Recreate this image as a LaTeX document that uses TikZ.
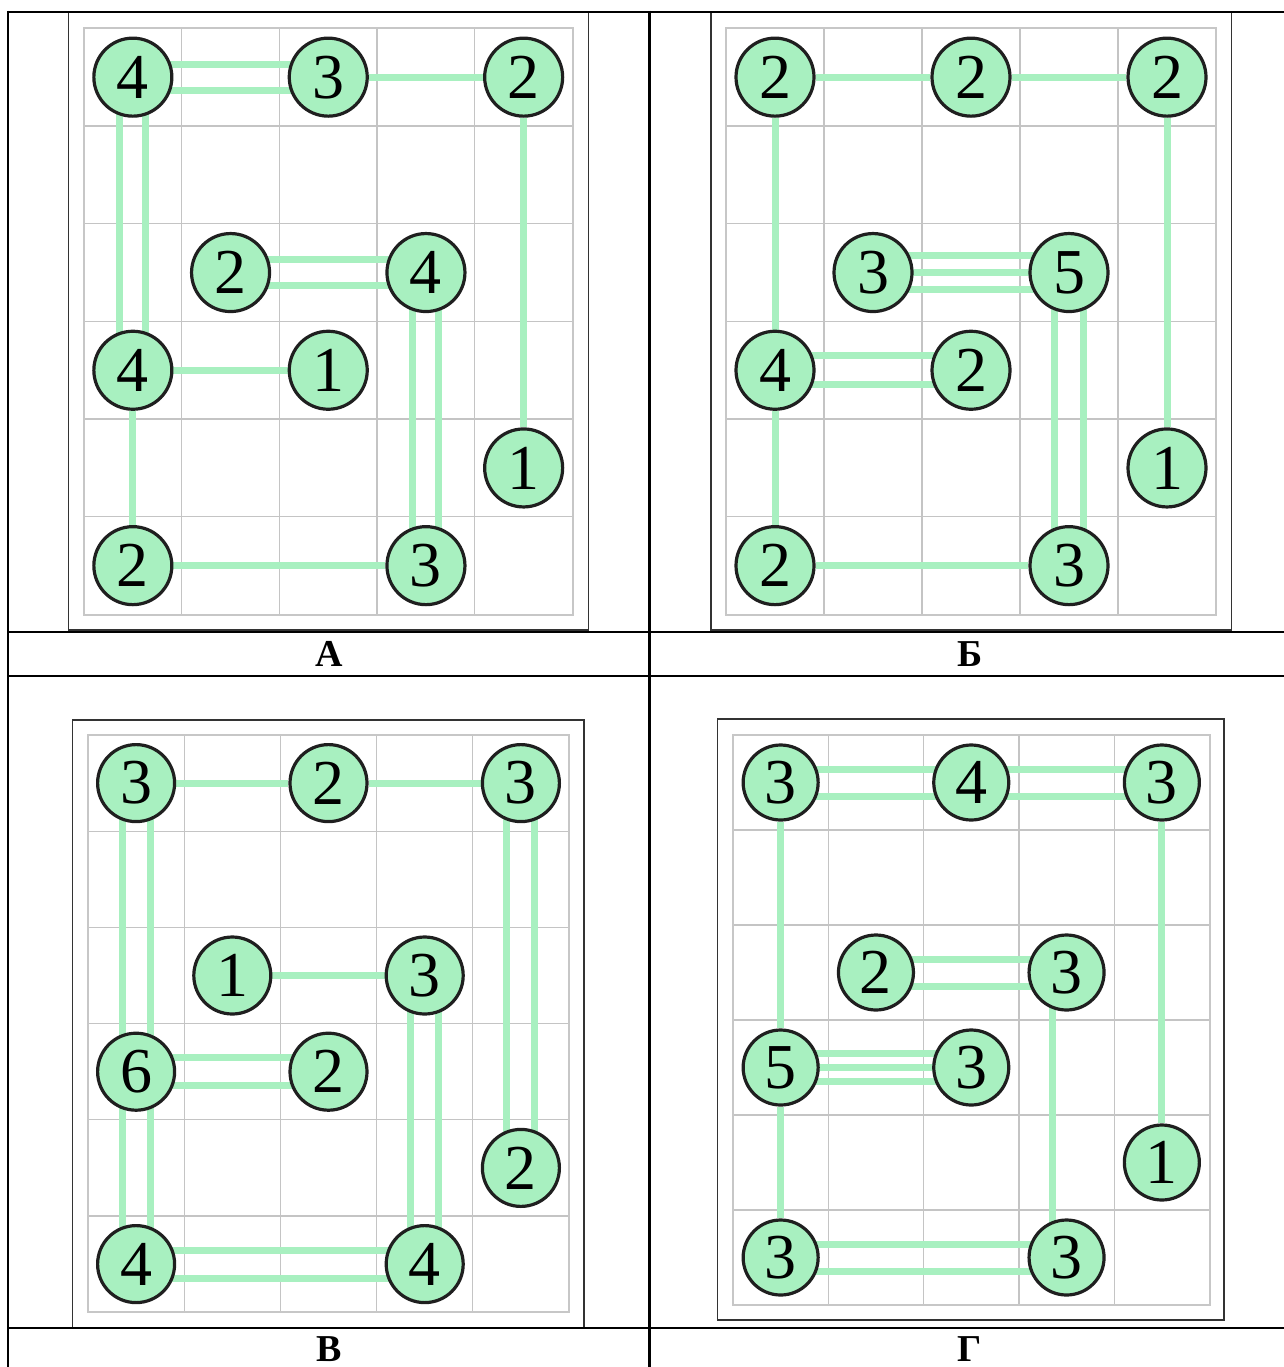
\documentclass[tikz,border=0pt]{standalone}
\usepackage{fontspec}
\setmainfont{Liberation Serif}
\usetikzlibrary{positioning}
\definecolor{isl}{HTML}{A8F0C0}
\definecolor{frm}{HTML}{333333}
\definecolor{grd}{HTML}{C4C4C4}
\pgfdeclarelayer{back}
\pgfdeclarelayer{bridge}
\pgfsetlayers{back,bridge,main}
\tikzset{
  island/.style={draw=black!88, circle, fill=isl, line width=3.2pt,
                 minimum size=78pt, inner sep=0pt,
                 font=\fontsize{64}{64}\selectfont},
  br/.style    ={draw=isl, line width=7pt},
  gridln/.style={draw=grd, line width=1.3pt},
  gridbd/.style={draw=black!22, line width=2pt},
  pbox/.style  ={draw=frm, line width=1.4pt},
  tbl/.style   ={draw=black, line width=2.8pt},
  lbl/.style   ={inner sep=0pt, font=\fontsize{38}{38}\selectfont\bfseries},
}

\begin{document}
\begin{tikzpicture}[x=1pt, y=-1pt]
  \useasboundingbox (0,0) rectangle (1284,1367);
  \clip (0,0) rectangle (1284,1367);

  % table
  \draw[tbl] (8,12) -- (1292,12);
  \draw[tbl] (8,632) -- (1292,632);
  \draw[tbl] (8,676) -- (1292,676);
  \draw[tbl] (8,1328) -- (1292,1328);
  \draw[tbl] (8,10.6) -- (8,1372);
  \draw[tbl] (649.5,10.6) -- (649.5,1372);
  \node[lbl] (la) at (328.75,654) {А};
  \node[lbl] (lb) at (970,654) {Б};
  \node[lbl] (lc) at (328.75,1349) {В};
  \node[lbl] (ld) at (970,1349) {Г};

  \begin{pgfonlayer}{back}
    \draw[pbox] (68.7,12) rectangle (588.3,630);
    \draw[pbox] (711,12.5) rectangle (1231.5,630);
    \draw[pbox] (72.5,720) rectangle (584,1327.5);
    \draw[pbox] (717.5,719) rectangle (1224,1320);
  \end{pgfonlayer}

  % puzzle A
  \begin{scope}[shift={(84,28.3)}, x=97.7pt, y=-97.7pt]
    \begin{pgfonlayer}{back}
      \foreach \i in {1,...,4} \draw[gridln] (\i,0) -- (\i,6);
      \foreach \j in {1,...,5} \draw[gridln] (0,\j) -- (5,\j);
      \draw[gridbd] (0,0) rectangle (5,6);
    \end{pgfonlayer}
    \node[island] (a11) at (0.5,0.5) {4};
    \node[island] (a31) at (2.5,0.5) {3};
    \node[island] (a51) at (4.5,0.5) {2};
    \node[island] (a23) at (1.5,2.5) {2};
    \node[island] (a43) at (3.5,2.5) {4};
    \node[island] (a14) at (0.5,3.5) {4};
    \node[island] (a34) at (2.5,3.5) {1};
    \node[island] (a55) at (4.5,4.5) {1};
    \node[island] (a16) at (0.5,5.5) {2};
    \node[island] (a46) at (3.5,5.5) {3};
    \begin{pgfonlayer}{bridge}
      \foreach \o in {-13,13} {
        \draw[br] ([yshift=\o pt]a11.center) -- ([yshift=\o pt]a31.center);
        \draw[br] ([yshift=\o pt]a23.center) -- ([yshift=\o pt]a43.center);
        \draw[br] ([xshift=\o pt]a11.center) -- ([xshift=\o pt]a14.center);
        \draw[br] ([xshift=\o pt]a43.center) -- ([xshift=\o pt]a46.center);
      }
      \draw[br] (a31) -- (a51);
      \draw[br] (a51) -- (a55);
      \draw[br] (a14) -- (a34);
      \draw[br] (a14) -- (a16);
      \draw[br] (a16) -- (a46);
    \end{pgfonlayer}
  \end{scope}

  % puzzle B
  \begin{scope}[shift={(726,28.3)}, x=98pt, y=-97.7pt]
    \begin{pgfonlayer}{back}
      \foreach \i in {1,...,4} \draw[gridln] (\i,0) -- (\i,6);
      \foreach \j in {1,...,5} \draw[gridln] (0,\j) -- (5,\j);
      \draw[gridbd] (0,0) rectangle (5,6);
    \end{pgfonlayer}
    \node[island] (b11) at (0.5,0.5) {2};
    \node[island] (b31) at (2.5,0.5) {2};
    \node[island] (b51) at (4.5,0.5) {2};
    \node[island] (b23) at (1.5,2.5) {3};
    \node[island] (b43) at (3.5,2.5) {5};
    \node[island] (b14) at (0.5,3.5) {4};
    \node[island] (b34) at (2.5,3.5) {2};
    \node[island] (b55) at (4.5,4.5) {1};
    \node[island] (b16) at (0.5,5.5) {2};
    \node[island] (b46) at (3.5,5.5) {3};
    \begin{pgfonlayer}{bridge}
      \foreach \o in {-17,0,17}
        \draw[br] ([yshift=\o pt]b23.center) -- ([yshift=\o pt]b43.center);
      \foreach \o in {-14.5,14.5} {
        \draw[br] ([xshift=\o pt]b43.center) -- ([xshift=\o pt]b46.center);
        \draw[br] ([yshift=\o pt]b14.center) -- ([yshift=\o pt]b34.center);
      }
      \draw[br] (b11) -- (b31);
      \draw[br] (b31) -- (b51);
      \draw[br] (b11) -- (b14);
      \draw[br] (b51) -- (b55);
      \draw[br] (b14) -- (b16);
      \draw[br] (b16) -- (b46);
    \end{pgfonlayer}
  \end{scope}

  % puzzle V
  \begin{scope}[shift={(88,735)}, x=96.2pt, y=-96.2pt,
                island/.append style={minimum size=77pt}]
    \begin{pgfonlayer}{back}
      \foreach \i in {1,...,4} \draw[gridln] (\i,0) -- (\i,6);
      \foreach \j in {1,...,5} \draw[gridln] (0,\j) -- (5,\j);
      \draw[gridbd] (0,0) rectangle (5,6);
    \end{pgfonlayer}
    \node[island] (c11) at (0.5,0.5) {3};
    \node[island] (c31) at (2.5,0.5) {2};
    \node[island] (c51) at (4.5,0.5) {3};
    \node[island] (c23) at (1.5,2.5) {1};
    \node[island] (c43) at (3.5,2.5) {3};
    \node[island] (c14) at (0.5,3.5) {6};
    \node[island] (c34) at (2.5,3.5) {2};
    \node[island] (c55) at (4.5,4.5) {2};
    \node[island] (c16) at (0.5,5.5) {4};
    \node[island] (c46) at (3.5,5.5) {4};
    \begin{pgfonlayer}{bridge}
      \foreach \o in {-14,14} {
        \draw[br] ([xshift=\o pt]c11.center) -- ([xshift=\o pt]c14.center);
        \draw[br] ([xshift=\o pt]c51.center) -- ([xshift=\o pt]c55.center);
        \draw[br] ([xshift=\o pt]c43.center) -- ([xshift=\o pt]c46.center);
        \draw[br] ([xshift=\o pt]c14.center) -- ([xshift=\o pt]c16.center);
        \draw[br] ([yshift=\o pt]c14.center) -- ([yshift=\o pt]c34.center);
        \draw[br] ([yshift=\o pt]c16.center) -- ([yshift=\o pt]c46.center);
      }
      \draw[br] (c11) -- (c31);
      \draw[br] (c31) -- (c51);
      \draw[br] (c23) -- (c43);
    \end{pgfonlayer}
  \end{scope}

  % puzzle G
  \begin{scope}[shift={(733,735)}, x=95.3pt, y=-95pt,
                island/.append style={minimum size=75pt}]
    \begin{pgfonlayer}{back}
      \foreach \i in {1,...,4} \draw[gridln] (\i,0) -- (\i,6);
      \foreach \j in {1,...,5} \draw[gridln] (0,\j) -- (5,\j);
      \draw[gridbd] (0,0) rectangle (5,6);
    \end{pgfonlayer}
    \node[island] (d11) at (0.5,0.5) {3};
    \node[island] (d31) at (2.5,0.5) {4};
    \node[island] (d51) at (4.5,0.5) {3};
    \node[island] (d23) at (1.5,2.5) {2};
    \node[island] (d43) at (3.5,2.5) {3};
    \node[island] (d14) at (0.5,3.5) {5};
    \node[island] (d34) at (2.5,3.5) {3};
    \node[island] (d55) at (4.5,4.5) {1};
    \node[island] (d16) at (0.5,5.5) {3};
    \node[island] (d46) at (3.5,5.5) {3};
    \begin{pgfonlayer}{bridge}
      \foreach \o in {-13.5,13.5} {
        \draw[br] ([yshift=\o pt]d11.center) -- ([yshift=\o pt]d31.center);
        \draw[br] ([yshift=\o pt]d31.center) -- ([yshift=\o pt]d51.center);
        \draw[br] ([yshift=\o pt]d23.center) -- ([yshift=\o pt]d43.center);
        \draw[br] ([yshift=\o pt]d16.center) -- ([yshift=\o pt]d46.center);
      }
      \foreach \o in {-14.3,0,14.3}
        \draw[br] ([yshift=\o pt]d14.center) -- ([yshift=\o pt]d34.center);
      \draw[br] ([xshift=-14.5pt]d43.center) -- ([xshift=-14.5pt]d46.center);
      \draw[br] (d11) -- (d14);
      \draw[br] (d51) -- (d55);
      \draw[br] (d14) -- (d16);
    \end{pgfonlayer}
  \end{scope}
\end{tikzpicture}
\end{document}
